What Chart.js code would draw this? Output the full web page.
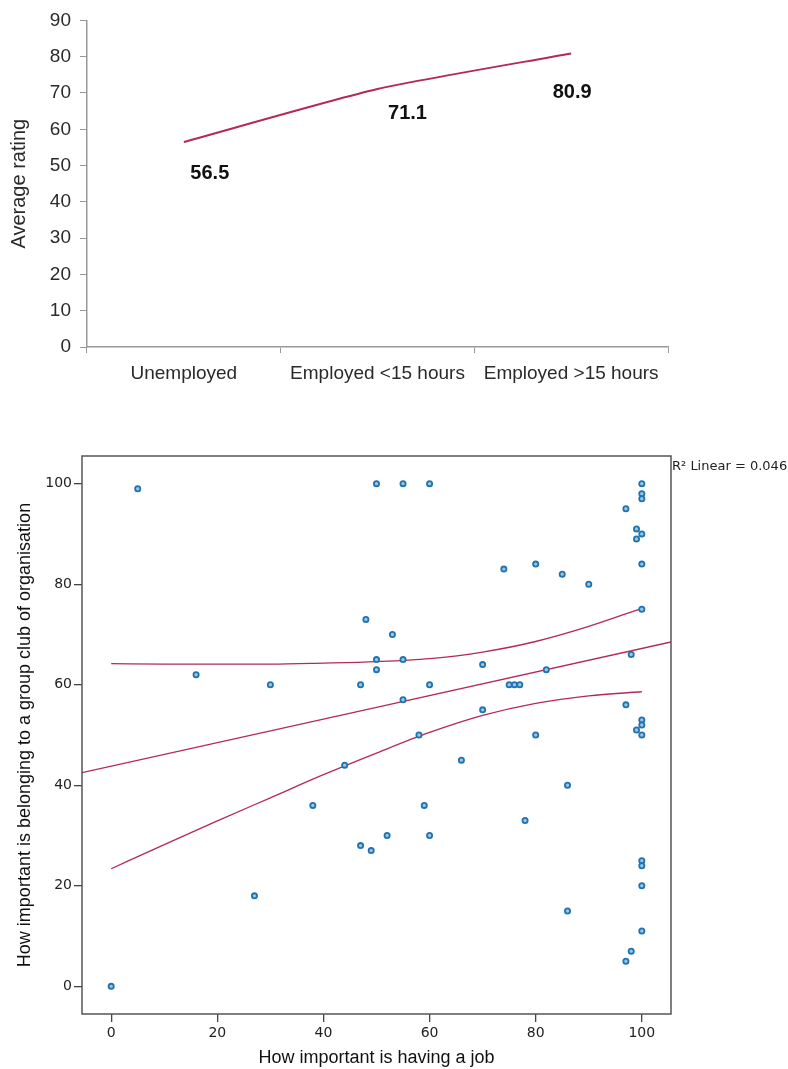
<!DOCTYPE html>
<html>
<head>
<meta charset="utf-8">
<script src="https://cdn.jsdelivr.net/npm/chart.js@4.4.1/dist/chart.umd.min.js"></script>
<style>
  body { margin: 0; background: #fff; }
  .box { position: absolute; left: 0; }
  #topBox { top: 0; }
  #bottomBox { top: 420px; }
</style>
</head>
<body>
<div class="box" id="topBox"><canvas id="lineChart" width="788" height="400"></canvas></div>
<div class="box" id="bottomBox"><canvas id="scatterChart" width="788" height="649"></canvas></div>
<script>
// Top chart: average rating by employment status
const ratingCats = ["Unemployed", "Employed <15 hours", "Employed >15 hours"];
const ratingVals = [56.5, 71.1, 80.9];
const ratingTicks = [0, 10, 20, 30, 40, 50, 60, 70, 80, 90];

// Bottom chart: job importance vs group belonging
const jobX = [0, 5, 16, 27, 30, 38, 44, 47, 47, 48, 49, 50, 50, 50, 52, 53, 55, 55, 55, 58, 59, 60, 60, 60,
  66, 70, 70, 74, 75, 76, 77, 78, 80, 80, 82, 85, 86, 86, 90, 97, 97, 97, 98, 98, 99, 99, 99,
  100, 100, 100, 100, 100, 100, 100, 100, 100, 100, 100, 100, 100];
const groupY = [0, 99, 62, 18, 60, 36, 44, 60, 28, 73, 27, 100, 65, 63, 30, 70, 100, 65, 57, 50, 36, 100, 60, 30,
  45, 64, 55, 83, 60, 60, 60, 33, 84, 50, 63, 82, 40, 15, 80, 95, 56, 5, 66, 7, 91, 89, 51,
  100, 98, 97, 90, 84, 75, 53, 52, 50, 25, 24, 20, 11];

// fit line and 95% band
const regX = [-5.5, 105.5];
const regY = [42.5, 68.5];
const bandX = [0, 10, 20, 30, 40, 50, 60, 70, 80, 90, 100];
const bandUpper = [64.2, 64.1, 64.1, 64.1, 64.3, 64.6, 65.2, 66.5, 68.6, 71.6, 75.2];
const bandLower = [23.4, 28.2, 32.9, 37.5, 42.1, 46.4, 50.5, 53.9, 56.3, 57.8, 58.6];
const scatterTicks = [0, 20, 40, 60, 80, 100];

const fitLabel = "R\u00b2 Linear = 0.046";

const sansFont = "'Liberation Sans', Arial, sans-serif";
const lineRed = "#b32a52";

// where each value label sits relative to its point
const labelNudge = [[26, 32], [30, 24], [1, 39]];

const valueLabels = {
  id: "valueLabels",
  afterDatasetsDraw(chart) {
    const ctx = chart.ctx;
    const meta = chart.getDatasetMeta(0);
    ctx.save();
    ctx.font = "bold 20px " + sansFont;
    ctx.fillStyle = "#111";
    ctx.textAlign = "center";
    ctx.textBaseline = "middle";
    meta.data.forEach((pt, i) => {
      const [dx, dy] = labelNudge[i];
      ctx.fillText(ratingVals[i].toFixed(1), pt.x + dx, pt.y + dy);
    });
    ctx.restore();
  }
};

new Chart(document.getElementById("lineChart"), {
  type: "line",
  data: {
    labels: ratingCats,
    datasets: [{
      data: ratingVals,
      borderColor: lineRed,
      borderWidth: 2,
      pointRadius: 0,
      tension: 0.2
    }]
  },
  options: {
    responsive: false,
    animation: false,
    layout: { padding: { top: 15, right: 120, bottom: 0, left: 0 } },
    plugins: { legend: { display: false }, tooltip: { enabled: false } },
    scales: {
      x: {
        offset: true,
        afterFit: (scale) => { scale.height = 53; },
        grid: { offset: true, drawOnChartArea: false, tickLength: 6, color: "#999" },
        border: { color: "#999", width: 1.5 },
        ticks: { color: "#2a2a2a", padding: 9, font: { size: 19, family: sansFont } }
      },
      y: {
        min: 0,
        max: 90,
        afterFit: (scale) => { scale.width = 87; },
        afterBuildTicks: (scale) => { scale.ticks = ratingTicks.map((v) => ({ value: v })); },
        grid: { drawOnChartArea: false, tickLength: 7, color: "#999" },
        border: { color: "#999", width: 1.5 },
        ticks: { color: "#2a2a2a", padding: 9, font: { size: 19, family: sansFont } },
        title: {
          display: true,
          text: "Average rating",
          color: "#2a2a2a",
          padding: { top: 7, bottom: 0 },
          font: { size: 20, family: sansFont }
        }
      }
    }
  },
  plugins: [valueLabels]
});

const frameAndNote = {
  id: "frameAndNote",
  afterDraw(chart) {
    const { ctx, chartArea } = chart;
    ctx.save();
    ctx.strokeStyle = "#555";
    ctx.lineWidth = 1.5;
    ctx.strokeRect(chartArea.left, chartArea.top, chartArea.right - chartArea.left, chartArea.bottom - chartArea.top);
    ctx.font = "13px 'DejaVu Sans', sans-serif";
    ctx.fillStyle = "#222";
    ctx.textAlign = "left";
    ctx.textBaseline = "middle";
    ctx.fillText(fitLabel, chartArea.right + 1, chartArea.top + 11);
    ctx.restore();
  }
};

const bandStyle = {
  type: "line",
  borderColor: lineRed,
  borderWidth: 1.3,
  pointRadius: 0,
  fill: false,
  cubicInterpolationMode: "monotone"
};

new Chart(document.getElementById("scatterChart"), {
  type: "scatter",
  data: {
    datasets: [
      {
        data: jobX.map((x, i) => ({ x: x, y: groupY[i] })),
        pointRadius: 2.6,
        pointBorderWidth: 1.8,
        pointBorderColor: "#1f74b0",
        pointBackgroundColor: "#9cc6e4"
      },
      Object.assign({ data: regX.map((x, i) => ({ x: x, y: regY[i] })) }, bandStyle),
      Object.assign({ data: bandX.map((x, i) => ({ x: x, y: bandUpper[i] })) }, bandStyle),
      Object.assign({ data: bandX.map((x, i) => ({ x: x, y: bandLower[i] })) }, bandStyle)
    ]
  },
  options: {
    responsive: false,
    animation: false,
    layout: { padding: { top: 36, right: 117, bottom: 0, left: 0 } },
    plugins: { legend: { display: false }, tooltip: { enabled: false } },
    scales: {
      x: {
        type: "linear",
        min: -5.5,
        max: 105.5,
        afterFit: (scale) => { scale.height = 55; },
        afterBuildTicks: (scale) => { scale.ticks = scatterTicks.map((v) => ({ value: v })); },
        grid: { drawOnChartArea: false, tickLength: 8, color: "#444", lineWidth: 1.3 },
        border: { display: false },
        ticks: { color: "#222", padding: 3, font: { size: 14, family: "'DejaVu Sans', sans-serif" } },
        title: {
          display: true,
          text: "How important is having a job",
          color: "#111",
          padding: { top: 0, bottom: 0 },
          font: { size: 18, family: sansFont }
        }
      },
      y: {
        min: -5.5,
        max: 105.5,
        afterFit: (scale) => { scale.width = 82; },
        afterBuildTicks: (scale) => { scale.ticks = scatterTicks.map((v) => ({ value: v })); },
        grid: { drawOnChartArea: false, tickLength: 8, color: "#444", lineWidth: 1.3 },
        border: { display: false },
        ticks: { color: "#222", padding: 2, font: { size: 14, family: "'DejaVu Sans', sans-serif" } },
        title: {
          display: true,
          text: "How important is belonging to a group club of organisation",
          color: "#111",
          padding: { top: 14, bottom: 0 },
          font: { size: 18, family: sansFont }
        }
      }
    }
  },
  plugins: [frameAndNote]
});
</script>
</body>
</html>
